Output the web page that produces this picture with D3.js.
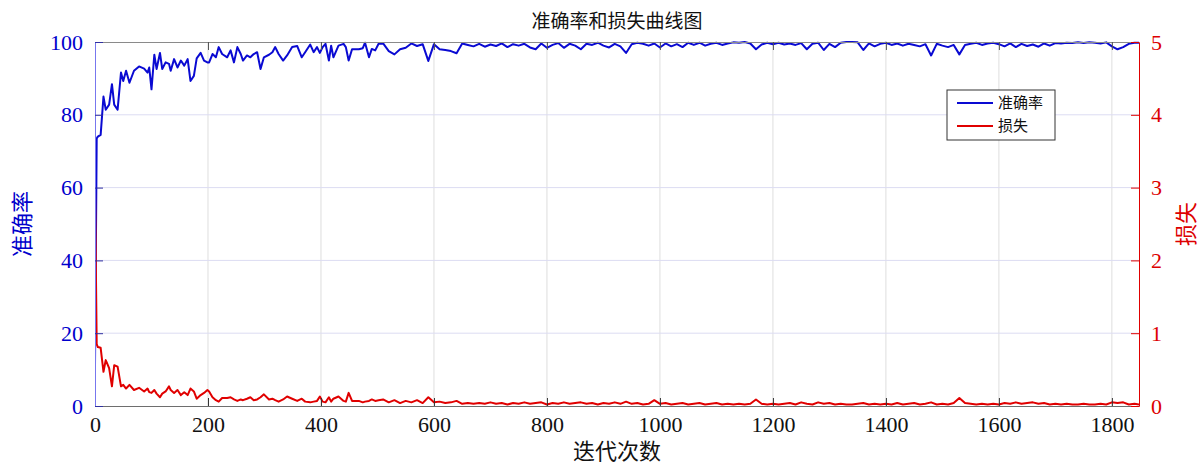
<!DOCTYPE html>
<html>
<head>
<meta charset="utf-8">
<script src="https://cdn.jsdelivr.net/npm/d3@7"></script>
<style>
  body { margin: 0; background: #fff; }
  svg { display: block; font-family: "Liberation Serif", "Times New Roman", serif; }
  .cjk { font-family: "Noto Sans CJK SC", sans-serif; }
</style>
</head>
<body>
<svg id="chart" width="1199" height="466"></svg>
<script>
// --- Data ---
const iterations = [
  0, 3, 5, 10, 15, 19, 25, 30, 34, 40, 46, 50, 55, 61, 69, 78, 87, 93, 96, 100,
  105, 109, 115, 119, 125, 131, 134, 140, 146, 152, 158, 164, 169, 175, 180, 187, 193, 199,
  202, 208, 214, 219, 225, 234, 240, 246, 252, 258, 262, 269, 275, 281, 287, 293, 299,
  308, 314, 319, 325, 333, 340, 349, 358, 366, 372, 381, 387, 393, 398, 403, 408, 414,
  418, 422, 431, 440, 444, 449, 455, 467, 474, 478, 485, 490, 496, 502,
  510, 520, 530, 540, 550, 560, 570, 580, 590, 600,
  610, 620, 630, 640, 650, 660, 670, 680, 690, 700,
  710, 720, 730, 740, 750, 760, 770, 780, 790, 800,
  810, 820, 830, 840, 850, 860, 870, 880, 890, 900,
  910, 920, 930, 940, 950, 960, 970, 980, 990, 1000,
  1010, 1020, 1030, 1040, 1050, 1060, 1070, 1080, 1090, 1100,
  1110, 1120, 1130, 1140, 1150, 1160, 1170, 1180, 1190, 1200,
  1210, 1220, 1230, 1240, 1250, 1260, 1270, 1280, 1290, 1300,
  1310, 1320, 1330, 1340, 1350, 1360, 1370, 1380, 1390, 1400,
  1410, 1420, 1430, 1440, 1450, 1460, 1470, 1480, 1490, 1500,
  1510, 1520, 1530, 1540, 1550, 1560, 1570, 1580, 1590, 1600,
  1610, 1620, 1630, 1640, 1650, 1660, 1670, 1680, 1690, 1700,
  1710, 1720, 1730, 1740, 1750, 1760, 1770, 1780, 1790, 1800,
  1810, 1820, 1830, 1840, 1848
];

const accuracy = [
  11, 73.5, 74, 74.5, 85, 81.4, 82.8, 88.4, 82.8, 81.4, 91.6, 89.3, 92.1, 88.8, 92.1, 93.3, 92.7, 91.6, 93, 87,
  96.5, 92.6, 97, 92.6, 94.4, 94, 92.1, 95.3, 93, 94.9, 93.5, 95.3, 89.3, 90.7, 95.5, 97, 94.9, 94.4,
  94.4, 96.7, 95.8, 98.6, 96.7, 95.8, 97.7, 94.4, 98.6, 96.7, 94.9, 96.3, 95.8, 96.7, 97.2, 92.6, 95.8,
  96.5, 97.2, 98.6, 96.7, 94.9, 96.3, 98.6, 98.9, 95.8, 97.2, 99.3, 97.2, 98.6, 97.0, 98.6, 99.5, 94.9,
  99.0, 95.8, 99.0, 99.5, 98.6, 94.9, 98.0, 98.0, 98.3, 99.8, 95.8, 98.1, 97.7, 99.5,
  99.6, 97.5, 96.6, 98.0, 98.4, 99.6, 98.9, 99.4, 94.8, 99.4,
  98.0, 97.8, 97.5, 96.9, 99.6, 99.2, 98.8, 99.5, 98.7, 99.3,
  98.9, 99.6, 98.6, 99.4, 99.0, 99.5, 98.5, 98.0, 99.6, 98.4,
  99.2, 99.7, 98.4, 99.5, 99.0, 98.0, 99.5, 99.2, 99.8, 99.0,
  98.5, 99.5, 98.8, 97.0, 99.4, 99.8, 99.5, 99.0, 99.6, 98.5,
  99.6, 98.8, 99.4, 98.6, 99.8, 99.2, 99.8, 99.0, 99.5, 99.8,
  99.2, 99.6, 99.9, 99.8, 100, 99.6, 98.0, 99.3, 99.8, 99.4,
  99.8, 99.3, 99.6, 99.2, 99.7, 98.0, 99.5, 99.8, 97.8, 99.5,
  98.6, 99.8, 100, 100, 99.9, 97.8, 99.6, 98.8, 99.5, 99.8,
  99.2, 99.6, 99.0, 99.5, 99.2, 98.8, 99.4, 96.3, 99.5, 99.0,
  98.6, 99.2, 96.6, 99.2, 99.5, 99.8, 99.2, 99.6, 99.8, 99.4,
  98.8, 99.6, 98.6, 99.5, 98.9, 99.3, 98.7, 99.6, 99.0, 99.7,
  99.6, 99.8, 99.7, 99.9, 99.7, 99.9, 99.8, 99.6, 99.9, 98.8,
  98.0, 98.6, 99.5, 99.8, 99.8
];

const loss = [
  3.0, 0.85, 0.81, 0.8, 0.47, 0.63, 0.52, 0.27, 0.56, 0.54, 0.27, 0.29, 0.24, 0.29, 0.22, 0.25, 0.2, 0.24, 0.19, 0.18,
  0.22, 0.17, 0.12, 0.17, 0.2, 0.27, 0.22, 0.18, 0.22, 0.15, 0.19, 0.15, 0.24, 0.2, 0.1, 0.15, 0.18, 0.22,
  0.2, 0.12, 0.08, 0.06, 0.11, 0.11, 0.12, 0.09, 0.07, 0.09, 0.08, 0.1, 0.12, 0.08, 0.09, 0.12, 0.16,
  0.09, 0.1, 0.08, 0.06, 0.09, 0.13, 0.1, 0.07, 0.1, 0.06, 0.05, 0.06, 0.07, 0.13, 0.06, 0.05, 0.12,
  0.06, 0.1, 0.13, 0.07, 0.06, 0.18, 0.07, 0.07, 0.05, 0.06, 0.07, 0.09, 0.07, 0.08,
  0.09, 0.05, 0.08, 0.04, 0.07, 0.05, 0.08, 0.04, 0.12, 0.05,
  0.06, 0.04, 0.05, 0.07, 0.03, 0.04, 0.03, 0.04, 0.03, 0.05,
  0.03, 0.04, 0.02, 0.04, 0.03, 0.05, 0.03, 0.04, 0.05, 0.02,
  0.04, 0.03, 0.05, 0.03, 0.04, 0.05, 0.03, 0.04, 0.02, 0.04,
  0.03, 0.05, 0.03, 0.06, 0.03, 0.04, 0.02, 0.03, 0.08, 0.03,
  0.04, 0.02, 0.03, 0.04, 0.02, 0.03, 0.04, 0.02, 0.03, 0.04,
  0.02, 0.03, 0.02, 0.03, 0.02, 0.03, 0.09, 0.03, 0.02, 0.03,
  0.02, 0.03, 0.04, 0.02, 0.05, 0.03, 0.02, 0.05, 0.03, 0.04,
  0.02, 0.03, 0.02, 0.02, 0.03, 0.04, 0.02, 0.03, 0.02, 0.03,
  0.02, 0.04, 0.02, 0.03, 0.04, 0.02, 0.03, 0.05, 0.02, 0.03,
  0.02, 0.04, 0.11, 0.04, 0.03, 0.02, 0.03, 0.02, 0.03, 0.02,
  0.04, 0.03, 0.05, 0.03, 0.04, 0.05, 0.03, 0.04, 0.02, 0.03,
  0.02, 0.03, 0.02, 0.02, 0.03, 0.02, 0.02, 0.03, 0.02, 0.05,
  0.04, 0.05, 0.02, 0.03, 0.02
];

const xTicks = [0, 200, 400, 600, 800, 1000, 1200, 1400, 1600, 1800];
const accTicks = [0, 20, 40, 60, 80, 100];
const lossTicks = [0, 1, 2, 3, 4, 5];
const seriesNames = ['准确率', '损失'];

// --- Layout ---
const margin = { top: 42, right: 60, bottom: 60, left: 95 };
const plotW = 1139 - margin.left;
const plotH = 406 - margin.top;

const LINE_BLUE = '#0a0ad2';
const LINE_RED = '#e00000';
const NUM_FONT = '"Liberation Serif", "Times New Roman", serif';

const svg = d3.select('#chart');
const g = svg.append('g').attr('transform', `translate(${margin.left},${margin.top})`);

const x = d3.scaleLinear().domain([0, 1848]).range([0, plotW]);
const yAcc = d3.scaleLinear().domain([0, 100]).range([plotH, 0]);
const yLoss = d3.scaleLinear().domain([0, 5]).range([plotH, 0]);

// --- Grid ---
g.append('g').selectAll('line')
  .data(xTicks.slice(1))
  .enter().append('line')
  .attr('x1', d => x(d)).attr('x2', d => x(d))
  .attr('y1', 0).attr('y2', plotH)
  .attr('stroke', '#dedede').attr('stroke-width', 1);

g.append('g').selectAll('line')
  .data(accTicks.slice(1, -1))
  .enter().append('line')
  .attr('x1', 0).attr('x2', plotW)
  .attr('y1', d => yAcc(d)).attr('y2', d => yAcc(d))
  .attr('stroke', '#dcdcf2').attr('stroke-width', 1);

// --- Lines ---
svg.append('defs').append('clipPath').attr('id', 'plot-clip')
  .append('rect').attr('x', 0).attr('y', -2).attr('width', plotW).attr('height', plotH + 3);

const rows = iterations.map((it, i) => ({ it, acc: accuracy[i], loss: loss[i] }));

const lines = g.append('g').attr('clip-path', 'url(#plot-clip)');

lines.append('path')
  .datum(rows)
  .attr('fill', 'none')
  .attr('stroke', LINE_BLUE)
  .attr('stroke-width', 2)
  .attr('stroke-linejoin', 'round')
  .attr('d', d3.line().x(d => x(d.it)).y(d => yAcc(d.acc)));

lines.append('path')
  .datum(rows)
  .attr('fill', 'none')
  .attr('stroke', LINE_RED)
  .attr('stroke-width', 2)
  .attr('stroke-linejoin', 'round')
  .attr('d', d3.line().x(d => x(d.it)).y(d => yLoss(d.loss)));

// --- Axes ---
function styleAxis(sel, tickColor, textColor, domainColor) {
  sel.attr('font-family', NUM_FONT).attr('font-size', 22);
  sel.selectAll('.tick line').attr('stroke', tickColor);
  sel.selectAll('.tick text').attr('fill', textColor);
  sel.select('.domain').attr('stroke', domainColor);
}

const fmt = d3.format('d');

// top border with ticks
const topAxis = g.append('g')
  .call(d3.axisTop(x).tickValues(xTicks).tickSizeInner(-8).tickSizeOuter(0).tickFormat(''));
styleAxis(topAxis, '#555', '#000', '#8a8a8a');

const xAxis = g.append('g')
  .attr('transform', `translate(0,${plotH})`)
  .call(d3.axisBottom(x).tickValues(xTicks).tickSizeInner(-8).tickSizeOuter(0).tickPadding(10).tickFormat(fmt));
styleAxis(xAxis, '#333', '#111', '#6e6e6e');

const leftAxis = g.append('g')
  .call(d3.axisLeft(yAcc).tickValues(accTicks).tickSizeInner(-8).tickSizeOuter(0).tickPadding(12).tickFormat(fmt));
styleAxis(leftAxis, '#3030a0', '#0000cc', '#7777ee');

const rightAxis = g.append('g')
  .attr('transform', `translate(${plotW},0)`)
  .call(d3.axisRight(yLoss).tickValues(lossTicks).tickSizeInner(-8).tickSizeOuter(0).tickPadding(12).tickFormat(fmt));
styleAxis(rightAxis, '#e00000', '#dd0000', '#e00000');

// --- Titles ---
svg.append('text')
  .attr('class', 'cjk')
  .attr('x', margin.left + plotW / 2).attr('y', 28)
  .attr('text-anchor', 'middle')
  .attr('fill', '#111')
  .style('font-size', '19px')
  .text('准确率和损失曲线图');

svg.append('text')
  .attr('class', 'cjk')
  .attr('x', margin.left + plotW / 2).attr('y', 459)
  .attr('text-anchor', 'middle')
  .attr('fill', '#111')
  .style('font-size', '22px')
  .text('迭代次数');

svg.append('text')
  .attr('class', 'cjk')
  .attr('transform', `translate(30,${margin.top + plotH / 2}) rotate(-90)`)
  .attr('text-anchor', 'middle')
  .attr('fill', '#0000cc')
  .style('font-size', '22px')
  .text('准确率');

svg.append('text')
  .attr('class', 'cjk')
  .attr('transform', `translate(1194,${margin.top + plotH / 2}) rotate(-90)`)
  .attr('text-anchor', 'middle')
  .attr('fill', '#dd0000')
  .style('font-size', '22px')
  .text('损失');

// --- Legend ---
const legend = svg.append('g').attr('transform', 'translate(947,90)');
legend.append('rect')
  .attr('width', 108).attr('height', 50)
  .attr('fill', '#fff').attr('stroke', '#333').attr('stroke-width', 1);

const legendColors = [LINE_BLUE, LINE_RED];
const legendRow = legend.selectAll('.row')
  .data(seriesNames)
  .enter().append('g')
  .attr('class', 'row')
  .attr('transform', (d, i) => `translate(0,${13 + i * 23})`);

legendRow.append('line')
  .attr('x1', 10).attr('x2', 46)
  .attr('stroke', (d, i) => legendColors[i])
  .attr('stroke-width', 2);

legendRow.append('text')
  .attr('class', 'cjk')
  .attr('x', 51).attr('y', 5)
  .attr('fill', '#111')
  .style('font-size', '15px')
  .text(d => d);
</script>
</body>
</html>
